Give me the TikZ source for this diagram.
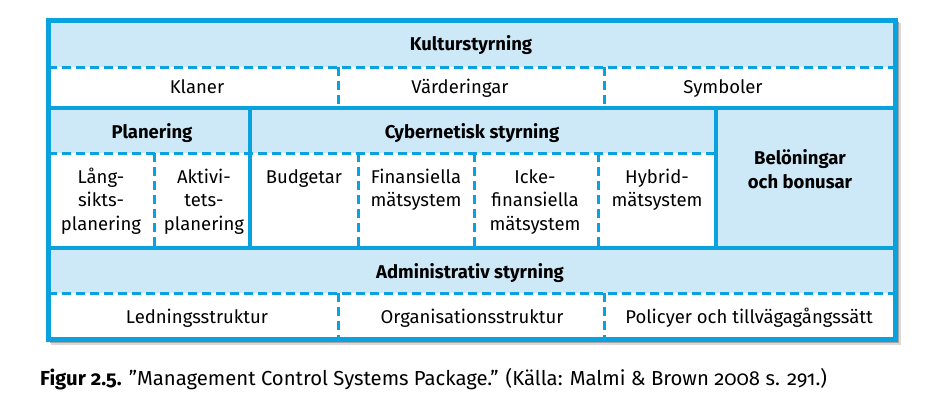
\documentclass[tikz,border=0pt]{standalone}
\usepackage{fontspec}
\setmainfont{Fira Sans}[Numbers=OldStyle]
\usetikzlibrary{positioning}
\definecolor{frameblue}{HTML}{0AA2DE}
\definecolor{lightblue}{HTML}{CDE9F8}

\begin{document}
\begin{tikzpicture}[x=1pt,y=-1pt,font=\fontsize{18.5}{23.5}\selectfont,
  solidline/.style={frameblue,line width=3.4pt},
  dashline/.style={frameblue,line width=3pt,dash pattern=on 9pt off 5pt},
  txt/.style={inner sep=0pt,align=center,anchor=base},
  headtxt/.style={txt,font=\fontsize{18.5}{23.5}\selectfont\bfseries}]
  \useasboundingbox (0,0) rectangle (943,416);
  \fill[black!15] (51,23) rectangle (901,345);
  \fill[black!35] (50,22) rectangle (899,343);
  \fill[white] (48,20) rectangle (895,339);
  \fill[lightblue] (48,20) rectangle (895,67);
  \fill[lightblue] (48,108) rectangle (716,153);
  \fill[lightblue] (716,108) rectangle (895,248);
  \fill[lightblue] (48,248) rectangle (895,293);
  \draw[dashline] (48,67) -- (895,67);
  \draw[dashline] (48,153) -- (716,153);
  \draw[dashline] (48,293) -- (895,293);
  \foreach \x in {338,604}{
    \draw[dashline] (\x,67) -- (\x,108);
    \draw[dashline] (\x,293) -- (\x,339);}
  \foreach \x in {154,358,474,598}
    \draw[dashline] (\x,153) -- (\x,248);
  \draw[solidline] (48,108) -- (895,108);
  \draw[solidline] (48,248) -- (895,248);
  \draw[solidline] (250,108) -- (250,248);
  \draw[solidline] (716,108) -- (716,248);
  \draw[frameblue,line width=5pt] (48,20) rectangle (895,339);
  \node[headtxt] (kultur) at (471,50) {Kulturstyrning};
  \node[txt] (klaner) at (197,93) {Klaner};
  \node[txt] (varden) at (460,93) {Värderingar};
  \node[txt] (symbol) at (723,93) {Symboler};
  \node[headtxt] (plan) at (152,138) {Planering};
  \node[headtxt] (cyber) at (472,138) {Cybernetisk styrning};
  \node[headtxt] (belon) at (800,188) {Belöningar\\och bonusar};
  \node[txt] (lang) at (101,230) {Lång-\\sikts-\\planering};
  \node[txt] (aktiv) at (204,230) {Aktivi-\\tets-\\planering};
  \node[txt] (budget) at (304,183) {Budgetar};
  \node[txt] (finans) at (416,206.5) {Finansiella\\mätsystem};
  \node[txt] (icke) at (535,230) {Icke-\\finansiella\\mätsystem};
  \node[txt] (hybrid) at (657,206.5) {Hybrid-\\mätsystem};
  \node[headtxt] (admin) at (470,278) {Administrativ styrning};
  \node[txt] (ledn) at (197,323) {Ledningsstruktur};
  \node[txt] (organ) at (472,323) {Organisationsstruktur};
  \node[txt] (polic) at (749,323) {Policyer och tillvägagångssätt};
  \node[anchor=base west,inner sep=0pt,font=\fontsize{20.3}{23.5}\selectfont] (caption) at (40,385)
    {\textbf{Figur 2.5.} ”Management Control Systems Package.” (Källa: Malmi \& Brown 2008 s. 291.)};
\end{tikzpicture}
\end{document}
